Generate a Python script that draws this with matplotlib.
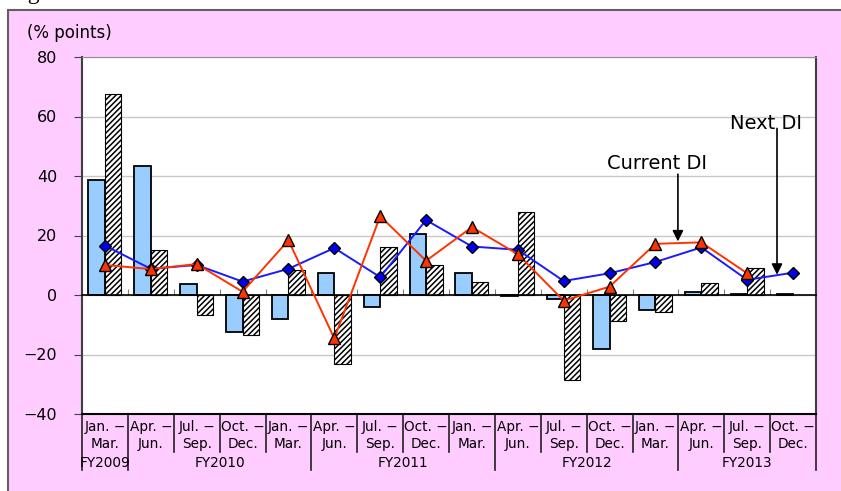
import numpy as np
import matplotlib.pyplot as plt
from matplotlib.patches import Rectangle
from matplotlib.transforms import blended_transform_factory

plt.rcParams['font.family'] = ['DejaVu Sans', 'Noto Sans CJK JP']
plt.rcParams['hatch.linewidth'] = 1.1

# 各四半期のラベル
period_start = ['Jan. −', 'Apr. −', 'Jul. −', 'Oct. −',
                'Jan. −', 'Apr. −', 'Jul. −', 'Oct. −',
                'Jan. −', 'Apr. −', 'Jul. −', 'Oct. −',
                'Jan. −', 'Apr. −', 'Jul. −', 'Oct. −']
period_end = ['Mar.', 'Jun.', 'Sep.', 'Dec.',
              'Mar.', 'Jun.', 'Sep.', 'Dec.',
              'Mar.', 'Jun.', 'Sep.', 'Dec.',
              'Mar.', 'Jun.', 'Sep.', 'Dec.']
fiscal_years = ['FY2009', 'FY2010', 'FY2011', 'FY2012', 'FY2013']
fy_sizes = [1, 4, 4, 4, 3]

blue_bars = [38.7, 43.4, 3.6, -12.4, -7.9, 7.3, -4.2, 20.5,
             7.3, -0.4, -1.4, -18.0, -5.0, 1.1, 0.2, 0.3]
hatch_bars = [67.6, 15.2, -6.6, -13.5, 8.5, -23.1, 16.1, 10.1,
              4.3, 28.0, -28.5, -8.8, -5.6, 4.2, 9.2]
next_di = [16.6, 8.8, 10.1, 4.5, 8.8, 15.8, 6.0, 25.2,
           16.3, 15.2, 4.7, 7.3, 11.1, 16.0, 5.1, 7.5]
current_di = [10.1, 8.7, 10.4, 1.1, 18.4, -14.6, 26.5, 11.5,
              22.8, 13.7, -1.9, 2.8, 17.2, 17.7, 7.3]

fig = plt.figure(figsize=(8.41, 4.91), dpi=100)
fig.patch.set_facecolor('white')

# ピンクの背景枠
bg = Rectangle((0.0095, -0.1), 1.2, 1.0796, transform=fig.transFigure,
               facecolor='#FFCCFF', edgecolor='#606060', lw=1.5, zorder=-5)
fig.patches.append(bg)
fig.text(8 / 841, 1 + 1 / 491, 'Fig', family='Liberation Serif',
         fontsize=17, va='baseline', ha='left')

ax = fig.add_axes([82 / 841, 1 - 414 / 491, 734 / 841, 357 / 491])
ax.set_facecolor('white')

x = np.arange(len(blue_bars))
w = 0.36
ax.bar(x - w, blue_bars, width=w, align='edge', color='#99CCFF',
       edgecolor='black', lw=1.3, zorder=2)
xh = np.arange(len(hatch_bars))
ax.bar(xh, hatch_bars, width=w, align='edge', color='white',
       edgecolor='black', hatch='//////', lw=0.8, zorder=2)

ax.plot(x, next_di, color='#1A1AFF', lw=1.4, marker='D', ms=6.5,
        mfc='#0000EE', mec='black', mew=1.0, zorder=3)
xc = np.arange(len(current_di))
ax.plot(xc, current_di, color='#FF3300', lw=1.4, marker='^', ms=9,
        mfc='#FF3300', mec='black', mew=1.0, zorder=4)

ax.set_xlim(-0.5, len(blue_bars) - 0.5)
ax.set_ylim(-40, 80)
ax.set_yticks([-40, -20, 0, 20, 40, 60, 80])
ax.yaxis.grid(True, color='#C8C8C8', lw=1)
ax.set_axisbelow(True)
ax.tick_params(axis='y', direction='out', length=6, pad=12,
               labelsize=11.5, color='#404040')

# 横軸はゼロの位置
ax.spines['bottom'].set_position(('data', 0))
ax.spines['bottom'].set_color('black')
ax.spines['bottom'].set_linewidth(1.2)
ax.set_xticks(np.arange(len(blue_bars) + 1) - 0.5)
ax.set_xticklabels([])
ax.tick_params(axis='x', direction='in', length=4, color='#808080')
ax.spines['left'].set_color('#404040')
ax.spines['left'].set_linewidth(1.5)
ax.spines['top'].set_color('#909090')
ax.spines['right'].set_color('#404040')
ax.spines['right'].set_linewidth(1.5)
ax.axhline(-40, color='black', lw=1.5, clip_on=False, zorder=5)

trans = blended_transform_factory(ax.transData, ax.transAxes)
for i in range(len(period_start)):
    ax.text(i, -0.036, period_start[i], transform=trans, ha='center',
            va='center', fontsize=9.8)
    ax.text(i, -0.084, period_end[i], transform=trans, ha='center',
            va='center', fontsize=9.8)

bounds = np.cumsum([0] + fy_sizes) - 0.5
for b in np.arange(len(blue_bars) + 1) - 0.5:
    depth = -0.157 if b in bounds else -0.106
    ax.plot([b, b], [0, depth], transform=trans, color='#202020',
            lw=1.2, clip_on=False)
for k, fy in enumerate(fiscal_years):
    ax.text((bounds[k] + bounds[k + 1]) / 2, -0.137, fy, transform=trans,
            ha='center', va='center', fontsize=9.8)

fig.text(27 / 841, 1 - 33 / 491, '(% points)', ha='left', va='center',
         fontsize=12)

# 注釈
arrow = dict(arrowstyle='-|>', color='black', lw=1.2, mutation_scale=16,
             shrinkA=0, shrinkB=0)
ax.text(12.03, 44.3, 'Current DI', ha='center', va='center', fontsize=14)
ax.annotate('', xy=(12.49, 18.0), xytext=(12.49, 40.6), arrowprops=arrow)
ax.text(14.42, 57.8, 'Next DI', ha='center', va='center', fontsize=14)
ax.annotate('', xy=(14.65, 6.8), xytext=(14.65, 56.0), arrowprops=arrow)

fig.savefig('out.png', dpi=100)
